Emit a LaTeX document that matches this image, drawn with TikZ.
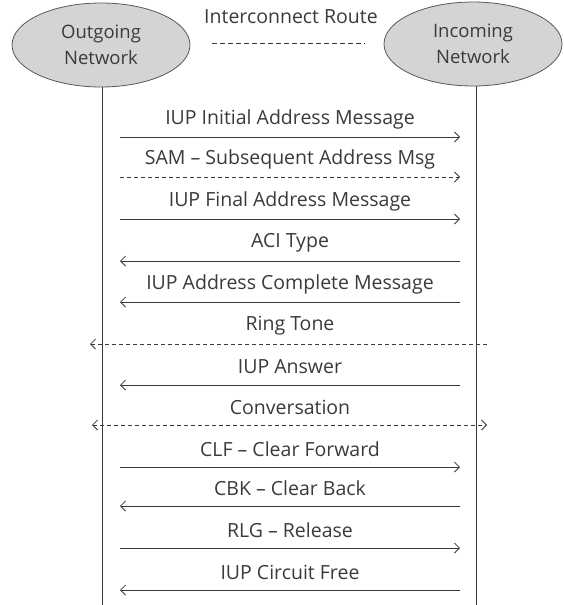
\documentclass[tikz,border=0pt]{standalone}
\usepackage{fontspec}
\setmainfont{Open Sans}
\usetikzlibrary{arrows.meta,shapes.geometric}
\definecolor{inkgray}{HTML}{3A3A3A}
\definecolor{bubble}{HTML}{D4D4D4}
\tikzset{
  net/.style={draw=inkgray!85,fill=bubble,ellipse,line width=0.8pt,inner sep=0pt,
    minimum width=178pt,minimum height=84pt,align=center,text=inkgray,
    font=\fontsize{18.5}{26}\selectfont},
  msgtext/.style={text=inkgray,inner sep=0pt,font=\fontsize{19.5}{22}\selectfont},
  life/.style={draw=inkgray,line width=0.8pt},
  fwd/.style={draw=inkgray,line width=0.8pt,-{Straight Barb[length=5pt,width=10pt]}},
  fwddash/.style={fwd,dash pattern=on 4pt off 3pt},
  bothdash/.style={fwddash,{Straight Barb[length=5pt,width=10pt]}-{Straight Barb[length=5pt,width=10pt]}}
}
\begin{document}
\begin{tikzpicture}[x=1pt,y=-1pt]
\useasboundingbox (0,0) rectangle (564,605);
% the two networks and their lifelines
\node[net] (out) at (101,45) {Outgoing\\Network};
\node[net] (inc) at (473,44) {Incoming\\Network};
\coordinate (outbot) at (102,605);
\coordinate (incbot) at (476,605);
\draw[life] (out.south -| outbot) -- (outbot);
\draw[life] (inc.south -| incbot) -- (incbot);
% route between them
\node[msgtext] (route) at (291,17) {Interconnect Route};
\coordinate (routea) at (212,43);
\coordinate (routeb) at (365,43);
\draw[life,dash pattern=on 5pt off 3pt] (routea) -- (routeb);
% signalling messages
\foreach \i/\y/\txt/\xa/\xb/\kind in {
  1/137/IUP Initial Address Message/120/460/fwd,
  2/177/SAM – Subsequent Address Msg/120/460/fwddash,
  3/219/IUP Final Address Message/120/460/fwd,
  4/261/ACI Type/460/120/fwd,
  5/302/IUP Address Complete Message/460/120/fwd,
  6/344/Ring Tone/487/90/fwddash,
  7/385/IUP Answer/460/120/fwd,
  8/425/Conversation/92/487/bothdash,
  9/467/CLF – Clear Forward/120/460/fwd,
  10/506/CBK – Clear Back/460/120/fwd,
  11/548/RLG – Release/120/460/fwd,
  12/590/IUP Circuit Free/460/120/fwd}
{
  \coordinate (s\i) at (\xa,\y);
  \coordinate (e\i) at (\xb,\y);
  \node[msgtext] (m\i) at (290,\y-18) {\txt};
  \draw[\kind] (s\i) -- (e\i);
}
\end{tikzpicture}
\end{document}
